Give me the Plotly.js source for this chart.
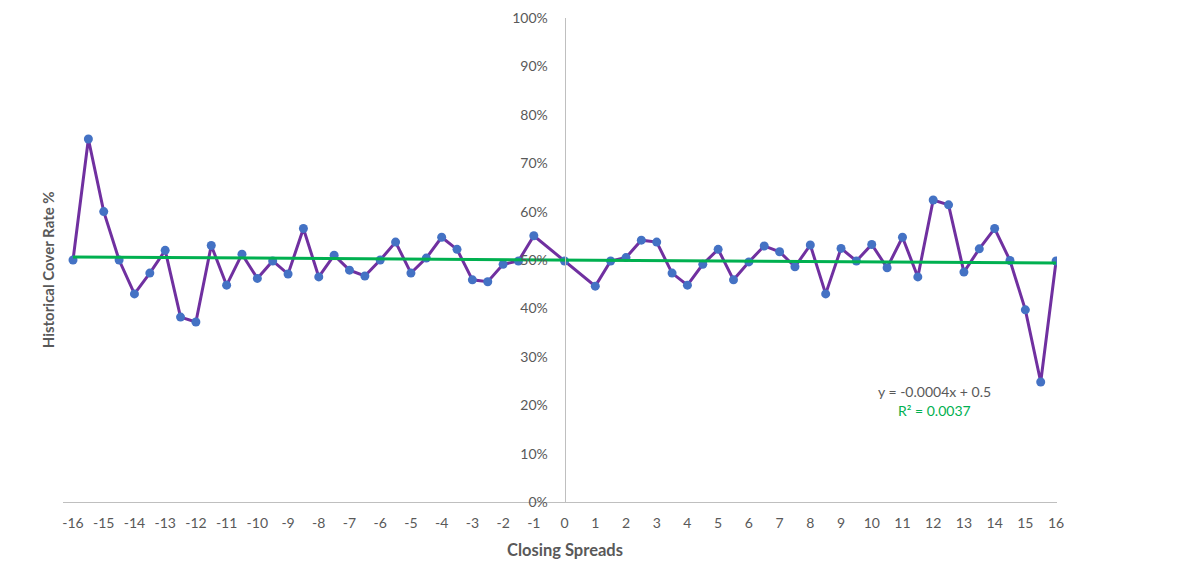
<!DOCTYPE html>
<html>
<head>
<meta charset="utf-8">
<script src="https://cdn.plot.ly/plotly-3.0.1.min.js"></script>
<style>
html,body{margin:0;padding:0;background:#fff;}
#chart{width:1194px;height:583px;}
</style>
</head>
<body>
<div id="chart"></div>
<script>
// Closing spreads (x) and historical cover rate (y)
const spreads = [
  -16,-15.5,-15,-14.5,-14,-13.5,-13,-12.5,-12,-11.5,-11,-10.5,-10,-9.5,-9,-8.5,
  -8,-7.5,-7,-6.5,-6,-5.5,-5,-4.5,-4,-3.5,-3,-2.5,-2,-1.5,-1,
  0,
  1,1.5,2,2.5,3,3.5,4,4.5,5,5.5,6,6.5,7,7.5,8,8.5,
  9,9.5,10,10.5,11,11.5,12,12.5,13,13.5,14,14.5,15,15.5,16
];
const coverRate = [
  0.500,0.750,0.600,0.500,0.430,0.473,0.520,0.382,0.372,0.530,0.448,0.512,0.462,0.498,0.471,0.565,
  0.465,0.510,0.479,0.467,0.500,0.537,0.473,0.504,0.547,0.522,0.459,0.455,0.491,0.498,0.550,
  0.498,
  0.446,0.498,0.505,0.541,0.537,0.473,0.448,0.491,0.522,0.459,0.496,0.529,0.517,0.486,0.531,0.430,
  0.524,0.498,0.532,0.484,0.547,0.465,0.624,0.614,0.475,0.523,0.565,0.499,0.397,0.248,0.498
];
// Trend line coefficients as shown on the chart
const trendSlope = -0.0004;
const trendIntercept = 0.5;
const trendLabel = "y = -0.0004x + 0.5";
const r2Label = "R² = 0.0037";
const xTicks = [];
for (let v = -16; v <= 16; v++) xTicks.push(v);
const yTicks = [0,0.1,0.2,0.3,0.4,0.5,0.6,0.7,0.8,0.9,1.0];

const xMin = spreads[0], xMax = spreads[spreads.length-1];
const trendX = [xMin, xMax];
const trendY = trendX.map(x => trendSlope * x + trendIntercept);

const FONT = "Lato, 'Open Sans', sans-serif";
const GRAY = "#595959";
const X0 = -16.326, X1 = 16.03;

const data = [
  {
    x: spreads, y: coverRate, type: 'scatter', mode: 'lines+markers',
    line: {color: '#7030A0', width: 3},
    marker: {color: '#4472C4', size: 9},
    hoverinfo: 'skip', showlegend: false
  },
  {
    x: trendX, y: trendY, type: 'scatter', mode: 'lines',
    line: {color: '#00B050', width: 3},
    hoverinfo: 'skip', showlegend: false
  }
];

const layout = {
  width: 1194, height: 583,
  margin: {l: 63, r: 137, t: 18, b: 81, pad: 0},
  paper_bgcolor: '#fff', plot_bgcolor: '#fff',
  font: {family: FONT, color: GRAY, size: 14},
  showlegend: false,
  xaxis: {
    range: [X0, X1],
    tickvals: xTicks,
    ticktext: xTicks.map(String),
    showgrid: false, zeroline: false,
    showline: true, linecolor: '#BFBFBF', linewidth: 1,
    ticks: '', ticklabelstandoff: 8,
    tickfont: {family: FONT, color: GRAY, size: 14},
    fixedrange: true
  },
  yaxis: {
    range: [0, 1],
    tickvals: yTicks,
    tickformat: '.0%',
    showgrid: false, zeroline: false,
    showline: true, linecolor: '#BFBFBF', linewidth: 1,
    anchor: 'free', position: (0 - X0) / (X1 - X0),
    ticks: '', ticklabelstandoff: 14,
    tickfont: {family: FONT, color: GRAY, size: 14},
    fixedrange: true
  },
  annotations: [
    {text: '<b>Closing Spreads</b>', xref: 'paper', yref: 'paper',
     x: 0.505, y: -0.099, xanchor: 'center', yanchor: 'middle', showarrow: false,
     font: {family: FONT, size: 16.5, color: GRAY}},
    {text: '<b>Historical Cover Rate %</b>', xref: 'paper', yref: 'paper',
     x: -0.015, y: 0.479, xanchor: 'center', yanchor: 'middle', textangle: -90, showarrow: false,
     font: {family: FONT, size: 15, color: GRAY}},
    {text: trendLabel, xref: 'x', yref: 'y', x: 12.05, y: 0.229,
     xanchor: 'center', yanchor: 'middle', showarrow: false,
     font: {family: FONT, size: 14, color: GRAY}},
    {text: r2Label, xref: 'x', yref: 'y', x: 12.05, y: 0.19,
     xanchor: 'center', yanchor: 'middle', showarrow: false,
     font: {family: FONT, size: 14, color: '#00B050'}}
  ]
};

Plotly.newPlot('chart', data, layout, {displayModeBar: false, staticPlot: true});
</script>
</body>
</html>
